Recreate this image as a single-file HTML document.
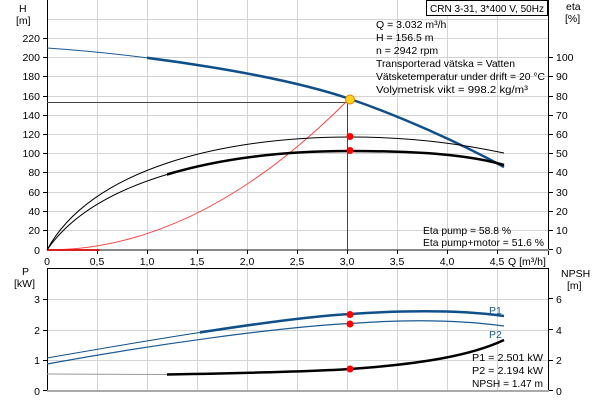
<!DOCTYPE html>
<html><head><meta charset="utf-8"><style>
html,body{margin:0;padding:0;background:#fff;width:600px;height:400px;overflow:hidden}
svg{display:block;font-family:"Liberation Sans",sans-serif;font-size:10.5px}
</style></head><body>
<svg width="600" height="400" viewBox="0 0 600 400" xmlns="http://www.w3.org/2000/svg">
<defs>
<clipPath id="c147"><rect x="147" y="0" width="460" height="400"/></clipPath>
<clipPath id="c167"><rect x="167" y="0" width="440" height="400"/></clipPath>
<clipPath id="c200"><rect x="200" y="0" width="400" height="400"/></clipPath>
</defs>
<g stroke="#d4d4d4" stroke-width="1">
<line x1="97.5" y1="0" x2="97.5" y2="250"/><line x1="147.5" y1="0" x2="147.5" y2="250"/><line x1="197.5" y1="0" x2="197.5" y2="250"/><line x1="247.5" y1="0" x2="247.5" y2="250"/><line x1="297.5" y1="0" x2="297.5" y2="250"/><line x1="397.5" y1="0" x2="397.5" y2="250"/><line x1="447.5" y1="0" x2="447.5" y2="250"/><line x1="497.5" y1="0" x2="497.5" y2="250"/>
<line x1="47" y1="19.5" x2="549" y2="19.5"/><line x1="47" y1="38.5" x2="549" y2="38.5"/><line x1="47" y1="57.5" x2="549" y2="57.5"/><line x1="47" y1="76.5" x2="549" y2="76.5"/><line x1="47" y1="96.5" x2="549" y2="96.5"/><line x1="47" y1="115.5" x2="549" y2="115.5"/><line x1="47" y1="134.5" x2="549" y2="134.5"/><line x1="47" y1="153.5" x2="549" y2="153.5"/><line x1="47" y1="172.5" x2="549" y2="172.5"/><line x1="47" y1="192.5" x2="549" y2="192.5"/><line x1="47" y1="211.5" x2="549" y2="211.5"/><line x1="47" y1="230.5" x2="549" y2="230.5"/>
<line x1="97.5" y1="268" x2="97.5" y2="391"/><line x1="147.5" y1="268" x2="147.5" y2="391"/><line x1="197.5" y1="268" x2="197.5" y2="391"/><line x1="247.5" y1="268" x2="247.5" y2="391"/><line x1="297.5" y1="268" x2="297.5" y2="391"/><line x1="347.5" y1="268" x2="347.5" y2="391"/><line x1="397.5" y1="268" x2="397.5" y2="391"/><line x1="447.5" y1="268" x2="447.5" y2="391"/><line x1="497.5" y1="268" x2="497.5" y2="391"/>
<line x1="47" y1="299.5" x2="549" y2="299.5"/><line x1="47" y1="330.5" x2="549" y2="330.5"/><line x1="47" y1="360.5" x2="549" y2="360.5"/>
</g>
<g stroke="#000" stroke-width="1" fill="none">
<line x1="47.5" y1="0" x2="47.5" y2="250"/>
<line x1="548.5" y1="0" x2="548.5" y2="255"/>
<line x1="47.5" y1="268" x2="47.5" y2="391"/>
<line x1="548.5" y1="268" x2="548.5" y2="391"/>
<line x1="47" y1="268.5" x2="549" y2="268.5"/>
</g>
<line x1="47" y1="250" x2="549" y2="250" stroke="#888" stroke-width="2"/>
<line x1="47" y1="391" x2="549" y2="391" stroke="#aaa" stroke-width="2"/>
<g stroke="#000"><line x1="43" y1="38.5" x2="47" y2="38.5"/><line x1="43" y1="57.5" x2="47" y2="57.5"/><line x1="43" y1="76.5" x2="47" y2="76.5"/><line x1="43" y1="96.5" x2="47" y2="96.5"/><line x1="43" y1="115.5" x2="47" y2="115.5"/><line x1="43" y1="134.5" x2="47" y2="134.5"/><line x1="43" y1="153.5" x2="47" y2="153.5"/><line x1="43" y1="172.5" x2="47" y2="172.5"/><line x1="43" y1="192.5" x2="47" y2="192.5"/><line x1="43" y1="211.5" x2="47" y2="211.5"/><line x1="43" y1="230.5" x2="47" y2="230.5"/>
<line x1="549" y1="57.5" x2="553" y2="57.5"/><line x1="549" y1="76.5" x2="553" y2="76.5"/><line x1="549" y1="96.5" x2="553" y2="96.5"/><line x1="549" y1="115.5" x2="553" y2="115.5"/><line x1="549" y1="134.5" x2="553" y2="134.5"/><line x1="549" y1="153.5" x2="553" y2="153.5"/><line x1="549" y1="172.5" x2="553" y2="172.5"/><line x1="549" y1="192.5" x2="553" y2="192.5"/><line x1="549" y1="211.5" x2="553" y2="211.5"/><line x1="549" y1="230.5" x2="553" y2="230.5"/><line x1="549" y1="249.5" x2="553" y2="249.5"/>
<line x1="43" y1="299.5" x2="47" y2="299.5"/><line x1="43" y1="330.5" x2="47" y2="330.5"/><line x1="43" y1="360.5" x2="47" y2="360.5"/><line x1="43" y1="390.5" x2="47" y2="390.5"/>
<line x1="549" y1="298.5" x2="553" y2="298.5"/><line x1="549" y1="329.5" x2="553" y2="329.5"/><line x1="549" y1="360.5" x2="553" y2="360.5"/><line x1="549" y1="390.5" x2="553" y2="390.5"/>
<line x1="97.5" y1="250" x2="97.5" y2="254"/><line x1="147.5" y1="250" x2="147.5" y2="254"/><line x1="197.5" y1="250" x2="197.5" y2="254"/><line x1="247.5" y1="250" x2="247.5" y2="254"/><line x1="297.5" y1="250" x2="297.5" y2="254"/><line x1="347.5" y1="250" x2="347.5" y2="254"/><line x1="397.5" y1="250" x2="397.5" y2="254"/><line x1="447.5" y1="250" x2="447.5" y2="254"/><line x1="497.5" y1="250" x2="497.5" y2="254"/>
</g>
<g stroke="#444" stroke-width="1"><line x1="47" y1="102.5" x2="350" y2="102.5"/><line x1="347.5" y1="102" x2="347.5" y2="250"/></g>
<path d="M47,250 Q200,250 350,98" stroke="#f44" stroke-width="1" fill="none"/>
<path d="M47,250 L100,250" stroke="#e00" stroke-width="1.5" fill="none"/>
<!-- H curve -->
<g fill="none">
<path id="hc" d="M47,48 C150,55 280,75 350,99 C400,116 460,143 504,167" stroke="#1a5a96" stroke-width="1"/>
<path d="M47,48 C150,55 280,75 350,99 C400,116 460,143 504,167" stroke="#0f4f8a" stroke-width="2.5" clip-path="url(#c147)"/>
<!-- eta -->
<path d="M47,250 C90,170 220,137 350,137 C420,137 470,146 504,153" stroke="#000" stroke-width="1"/>
<path d="M47,250 C95,180 220,151 350,151 C420,151 470,155 504,165" stroke="#000" stroke-width="1"/>
<path d="M47,250 C95,180 220,151 350,151 C420,151 470,155 504,165" stroke="#000" stroke-width="2.5" clip-path="url(#c167)"/>
<!-- P -->
<path d="M47,358 C150,340 280,318 350,314 C410,310 460,310 504,316" stroke="#0f4f8a" stroke-width="1"/>
<path d="M47,358 C150,340 280,318 350,314 C410,310 460,310 504,316" stroke="#0f4f8a" stroke-width="2.5" clip-path="url(#c200)"/>
<path d="M47,364 C150,345 280,327 350,323.5 C410,319 460,320 504,326" stroke="#1a5a96" stroke-width="1.2"/>
<path d="M47,374 L167,374.5 C250,373 320,371 350,369 C420,364 470,356 504,340" stroke="#999" stroke-width="1"/>
<path d="M47,374 L167,374.5 C250,373 320,371 350,369 C420,364 470,356 504,340" stroke="#000" stroke-width="2.5" clip-path="url(#c167)"/>
</g>
<circle cx="350" cy="136.5" r="3.5" fill="#f00"/><circle cx="350" cy="150.5" r="3.5" fill="#f00"/>
<circle cx="350" cy="99.5" r="4.5" fill="#ffd21e" stroke="#e08000" stroke-width="1"/>
<circle cx="350" cy="314.5" r="3.5" fill="#f00"/><circle cx="350" cy="324" r="3.5" fill="#f00"/><circle cx="350" cy="369" r="3.5" fill="#f00"/>
<g fill="#000">
<text x="19" y="12">H</text><text x="16" y="24">[m]</text>
<g text-anchor="end"><text x="40" y="42">220</text><text x="40" y="61">200</text><text x="40" y="80">180</text><text x="40" y="100">160</text><text x="40" y="119">140</text><text x="40" y="138">120</text><text x="40" y="157">100</text><text x="40" y="176">80</text><text x="40" y="196">60</text><text x="40" y="215">40</text><text x="40" y="234">20</text><text x="40" y="254">0</text>
<text x="40" y="303">3</text><text x="40" y="334">2</text><text x="40" y="364">1</text><text x="40" y="395">0</text></g>
<text x="556" y="61">100</text><text x="556" y="80">90</text><text x="556" y="100">80</text><text x="556" y="119">70</text><text x="556" y="138">60</text><text x="556" y="157">50</text><text x="556" y="176">40</text><text x="556" y="196">30</text><text x="556" y="215">20</text><text x="556" y="234">10</text><text x="556" y="254">0</text>
<text x="566" y="10">eta</text><text x="565" y="22">[%]</text>
<g text-anchor="middle"><text x="47" y="265">0</text><text x="97" y="265">0,5</text><text x="147" y="265">1,0</text><text x="197" y="265">1,5</text><text x="247" y="265">2,0</text><text x="297" y="265">2,5</text><text x="347" y="265">3,0</text><text x="397" y="265">3,5</text><text x="447" y="265">4,0</text><text x="497" y="265">4,5</text></g>
<text x="508" y="265">Q [m³/h]</text>
<text x="22" y="275">P</text><text x="14" y="287">[kW]</text>
<text x="561" y="277">NPSH</text><text x="567" y="289">[m]</text>
<text x="556" y="303">6</text><text x="556" y="334">4</text><text x="556" y="364">2</text><text x="556" y="395">0</text>
<text x="376" y="28">Q = 3.032 m³/h</text><text x="376" y="41">H = 156.5 m</text><text x="376" y="54">n = 2942 rpm</text><text x="376" y="67" textLength="139" lengthAdjust="spacingAndGlyphs">Transporterad vätska = Vatten</text><text x="376" y="80" textLength="169" lengthAdjust="spacingAndGlyphs">Vätsketemperatur under drift = 20 °C</text><text x="376" y="93" textLength="152" lengthAdjust="spacingAndGlyphs">Volymetrisk vikt = 998.2 kg/m³</text>
<text x="423" y="234" textLength="88" lengthAdjust="spacingAndGlyphs">Eta pump = 58.8 %</text><text x="423" y="246" textLength="121" lengthAdjust="spacingAndGlyphs">Eta pump+motor = 51.6 %</text>
<text x="472" y="361" textLength="71" lengthAdjust="spacingAndGlyphs">P1 = 2.501 kW</text><text x="472" y="374" textLength="71" lengthAdjust="spacingAndGlyphs">P2 = 2.194 kW</text><text x="472" y="387" textLength="71" lengthAdjust="spacingAndGlyphs">NPSH = 1.47 m</text>
</g>
<text x="489" y="314" fill="#1a5a96">P1</text><text x="489" y="338" fill="#1a5a96">P2</text>
<rect x="426.5" y="0.5" width="121" height="15" fill="#fff" stroke="#000"/>
<text x="430" y="12" fill="#000" textLength="114" lengthAdjust="spacingAndGlyphs">CRN 3-31, 3*400 V, 50Hz</text>
</svg>
</body></html>
